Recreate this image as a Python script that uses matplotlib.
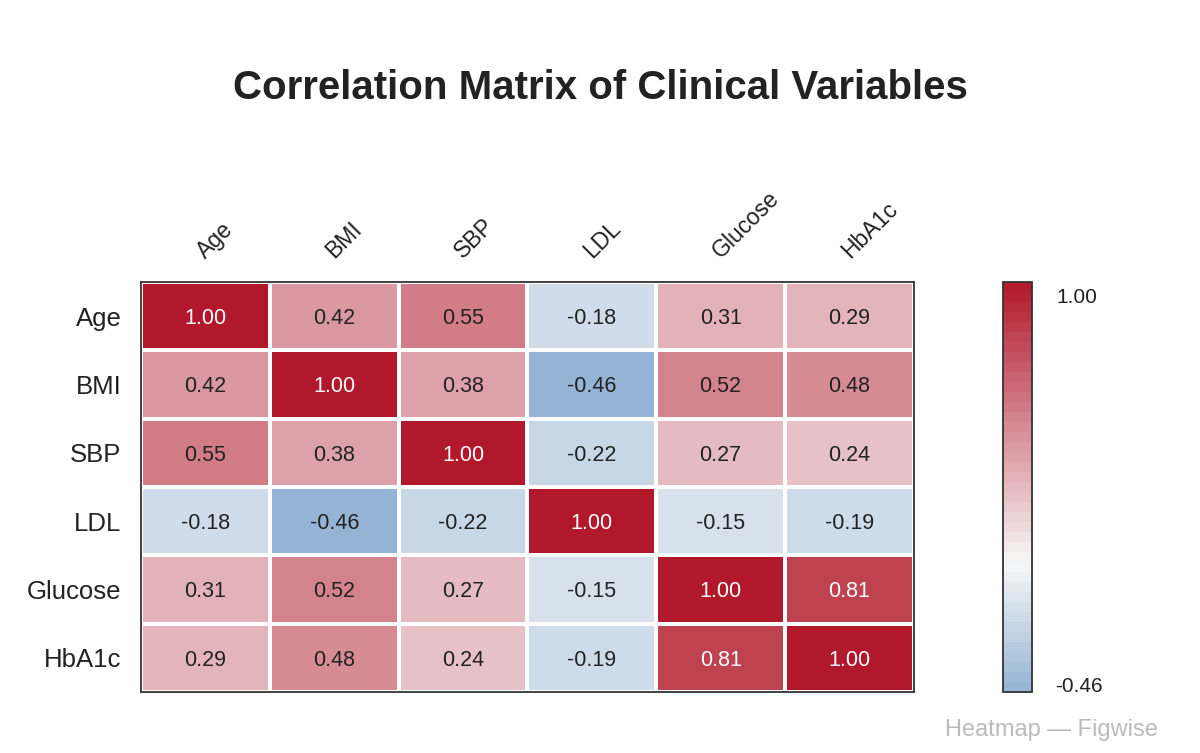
import numpy as np
import matplotlib
matplotlib.use("Agg")
import matplotlib.pyplot as plt
from matplotlib.colors import LinearSegmentedColormap, Normalize

plt.rcParams['font.family'] = ['Liberation Sans', 'DejaVu Sans']

variables = ["Age", "BMI", "SBP", "LDL", "Glucose", "HbA1c"]

age     = [1.00, 0.42, 0.55, -0.18, 0.31, 0.29]
bmi     = [0.42, 1.00, 0.38, -0.46, 0.52, 0.48]
sbp     = [0.55, 0.38, 1.00, -0.22, 0.27, 0.24]
ldl     = [-0.18, -0.46, -0.22, 1.00, -0.15, -0.19]
glucose = [0.31, 0.52, 0.27, -0.15, 1.00, 0.81]
hba1c   = [0.29, 0.48, 0.24, -0.19, 0.81, 1.00]

corr = np.array([age, bmi, sbp, ldl, glucose, hba1c])

cmap = LinearSegmentedColormap.from_list("rb", ["#2166ac", "#f7f7f7", "#b2182b"])
norm = Normalize(vmin=-1, vmax=1)

fig = plt.figure(figsize=(12, 7.53), dpi=100)
ax = fig.add_axes([0.1175, 0.081, 0.644, 0.5445])
cax = fig.add_axes([0.836, 0.081, 0.024, 0.5445])

n = len(variables)
mesh = ax.pcolormesh(np.arange(n + 1), np.arange(n + 1), corr, cmap=cmap, norm=norm,
                     edgecolors="white", linewidth=1.5)
ax.set_xlim(0, n)
ax.set_ylim(n, 0)

for i in range(n):
    for j in range(n):
        v = corr[i, j]
        col = "white" if abs(v) > 0.6 else "#222222"
        ax.text(j + 0.5, i + 0.535, "%.2f" % v, ha="center", va="center",
                fontsize=15.5, color=col)

ax.set_yticks(np.arange(n) + 0.5)
ax.set_yticklabels(variables, fontsize=18.5, color="#222222")
ax.tick_params(axis="y", length=0, pad=14)
ax.set_xticks([])
# column labels on top, rotated
for j, name in enumerate(variables):
    ax.text(j + 0.53, -0.28, name, rotation=45, ha="left", va="bottom",
            rotation_mode="anchor", fontsize=16.5, color="#222222")

for s in ax.spines.values():
    s.set_color("#333333")
    s.set_linewidth(1.3)

vmin = corr.min()
vmax = corr.max()
bounds = np.linspace(vmin, vmax, 42)
cb = fig.colorbar(mesh, cax=cax, boundaries=bounds)
cb.set_ticks([])
cb.outline.set_edgecolor("#333333")
cb.outline.set_linewidth(1.3)
cax.text(1.85, 0.985, "%.2f" % vmax, transform=cax.transAxes, ha="left", va="top",
         fontsize=15, color="#222222")
cax.text(1.8, -0.01, "%.2f" % vmin, transform=cax.transAxes, ha="left", va="bottom",
         fontsize=15, color="#222222")

fig.text(0.5, 0.883, "Correlation Matrix of Clinical Variables", ha="center", va="center",
         fontsize=29, fontweight="bold", color="#222222")
fig.text(0.965, 0.031, "Heatmap \u2014 Figwise", ha="right", va="center",
         fontsize=17, color="#bbbbbb")

fig.savefig("out.png", dpi=100)
